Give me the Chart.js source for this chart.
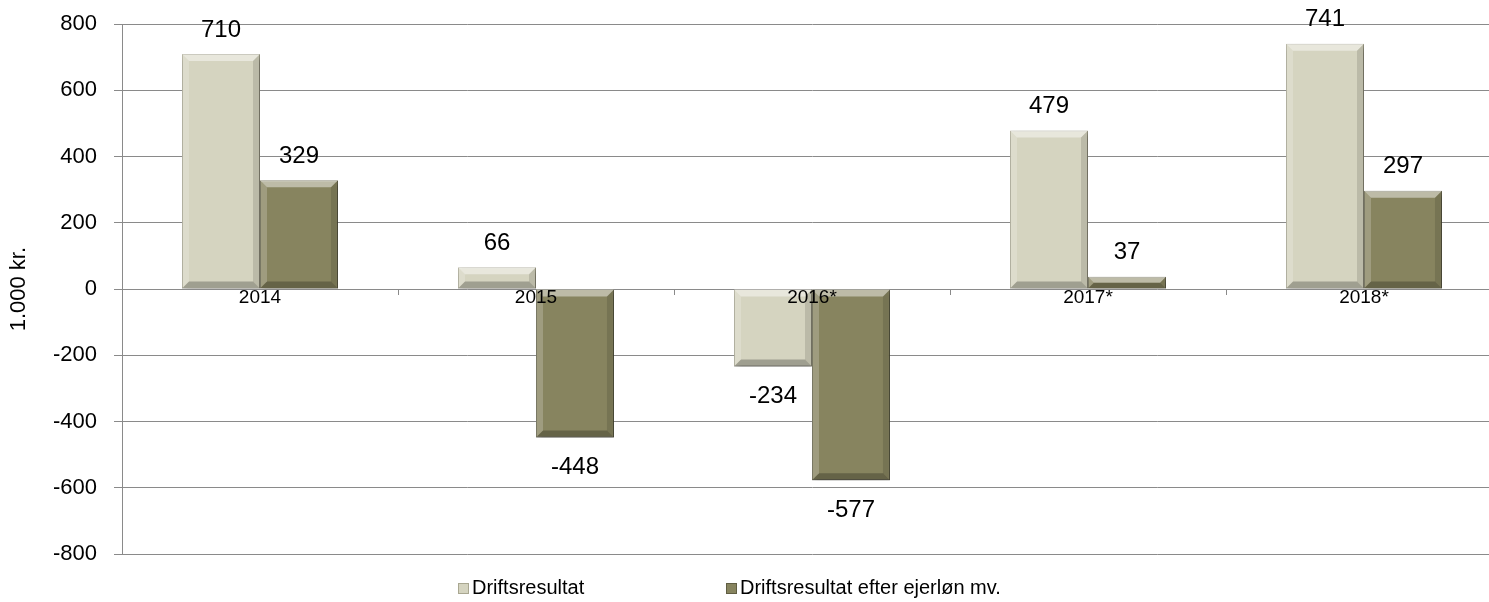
<!DOCTYPE html>
<html>
<head>
<meta charset="utf-8">
<script src="https://cdn.jsdelivr.net/npm/chart.js@4/dist/chart.umd.min.js"></script>
<style>
  html, body { margin: 0; padding: 0; background: #fff; overflow: hidden; }
  #wrap { position: relative; top: -6px; width: 1504px; height: 608px; }
</style>
</head>
<body>
<div id="wrap"><canvas id="chart"></canvas></div>
<script>
// Chart data
const categories = ['2014', '2015', '2016*', '2017*', '2018*'];
const driftsresultat = [710, 66, -234, 479, 741];
const efterEjerloen = [329, -448, -577, 37, 297];
const seriesNames = ['Driftsresultat', 'Driftsresultat efter ejerløn mv.'];
const yRange = [-800, 800];
const yStep = 200;
const yTitle = '1.000 kr.';

const FONT = "Arial, 'Liberation Sans', sans-serif";
const LIGHT = '#d5d4c0';
const DARK = '#87845f';

// Draws drop shadow, bevel and value labels for each bar
const barExtras = {
    id: 'barExtras',
    beforeDatasetsDraw(chart) {
        const ctx = chart.ctx;
        ctx.save();
        ctx.shadowColor = 'rgba(0,0,0,0.35)';
        ctx.shadowBlur = 6;
        ctx.shadowOffsetX = 2;
        ctx.shadowOffsetY = 3;
    },
    afterDatasetsDraw(chart) {
        const ctx = chart.ctx;
        ctx.restore();

        const poly = (pts, color) => {
            ctx.beginPath();
            ctx.moveTo(pts[0][0], pts[0][1]);
            pts.slice(1).forEach(p => ctx.lineTo(p[0], p[1]));
            ctx.closePath();
            ctx.fillStyle = color;
            ctx.fill();
        };

        chart.getSortedVisibleDatasetMetas().forEach(meta => {
            const ds = chart.data.datasets[meta.index];
            meta.data.forEach((bar, i) => {
                const p = bar.getProps(['x', 'y', 'base', 'width'], true);
                const l = p.x - p.width / 2, r = p.x + p.width / 2;
                const t = Math.min(p.y, p.base), b = Math.max(p.y, p.base);
                const s = Math.min(7, (b - t) / 2);
                ctx.save();
                poly([[l, t], [r, t], [r - s, t + s], [l + s, t + s]], 'rgba(255,255,255,0.45)');
                poly([[l, t], [l + s, t + s], [l + s, b - s], [l, b]], 'rgba(255,255,255,0.2)');
                poly([[r, t], [r, b], [r - s, b - s], [r - s, t + s]], 'rgba(0,0,0,0.12)');
                poly([[l, b], [l + s, b - s], [r - s, b - s], [r, b]], 'rgba(0,0,0,0.25)');

                const v = ds.data[i];
                ctx.fillStyle = '#000';
                ctx.font = '24px ' + FONT;
                ctx.textAlign = 'center';
                ctx.textBaseline = 'middle';
                ctx.fillText(String(v), p.x, v >= 0 ? p.y - 24 : p.y + 30);
                ctx.restore();
            });
        });
    },
    afterDraw(chart) {
        // legend along the bottom
        const ctx = chart.ctx;
        const y = 594;
        const startX = 458, gap = 268;
        ctx.save();
        ctx.font = '20px ' + FONT;
        ctx.textBaseline = 'middle';
        ctx.textAlign = 'left';
        chart.data.datasets.forEach((ds, i) => {
            const x = startX + i * gap;
            ctx.fillStyle = ds.backgroundColor;
            ctx.fillRect(x, y - 5, 11, 11);
            ctx.strokeStyle = ds.borderColor;
            ctx.lineWidth = 1;
            ctx.strokeRect(x + 0.5, y - 4.5, 10, 10);
            ctx.fillStyle = '#000';
            ctx.fillText(ds.label, x + 14, y);
        });
        ctx.restore();
    }
};

const ctx = document.getElementById('chart').getContext('2d');
new Chart(ctx, {
    type: 'bar',
    data: {
        labels: categories,
        datasets: [
            {
                label: seriesNames[0],
                data: driftsresultat,
                backgroundColor: LIGHT,
                borderColor: '#a9a791',
                borderWidth: 1
            },
            {
                label: seriesNames[1],
                data: efterEjerloen,
                backgroundColor: DARK,
                borderColor: '#605e43',
                borderWidth: 1
            }
        ]
    },
    options: {
        responsive: true,
        maintainAspectRatio: false,
        animation: false,
        datasets: {
            bar: { categoryPercentage: 0.565, barPercentage: 1.0 }
        },
        layout: { padding: { left: 6, right: 2, top: 18, bottom: 48 } },
        plugins: {
            legend: { display: false },
            tooltip: { enabled: false }
        },
        scales: {
            x: {
                position: { y: 0 },
                offset: true,
                border: { display: false },
                grid: {
                    drawOnChartArea: false,
                    drawTicks: true,
                    tickLength: 6,
                    color: '#8a8a8a'
                },
                ticks: {
                    z: 1,
                    color: '#000',
                    padding: -9,
                    font: { family: FONT, size: 19 }
                }
            },
            y: {
                min: yRange[0],
                max: yRange[1],
                border: { display: true, color: '#8a8a8a', width: 1 },
                grid: { color: '#8a8a8a', lineWidth: 1, tickLength: 8 },
                ticks: {
                    stepSize: yStep,
                    color: '#000',
                    padding: 17,
                    font: { family: FONT, size: 22 }
                },
                title: {
                    display: true,
                    text: yTitle,
                    color: '#000',
                    padding: 0,
                    font: { family: FONT, size: 22 }
                },
                afterFit(scale) { scale.width = 116; }
            }
        }
    },
    plugins: [barExtras]
});
</script>
</body>
</html>
